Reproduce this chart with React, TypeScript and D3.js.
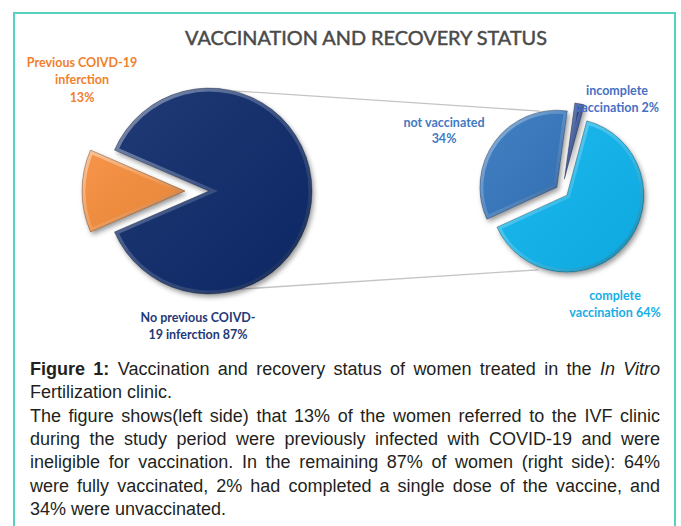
import * as React from 'react';
import * as d3 from 'd3';

// left pie: recovery status
const recoveryLabels = ['No previous COIVD-19 inferction', 'Previous COIVD-19 inferction'];
const recoveryValues = [87, 13];
// right pie: vaccination status among the 87%
const vaccLabels = ['complete vaccination', 'not vaccinated', 'incomplete vaccination'];
const vaccValues = [64, 34, 2];

const title = 'VACCINATION AND RECOVERY STATUS';

type Word = { t: string; b?: boolean; i?: boolean };
const captionLines: { words: Word[]; justify: boolean }[] = [
    {
        words: [{ t: 'Figure', b: true }, { t: '1:', b: true },
            ...'Vaccination and recovery status of women treated in the'.split(' ').map(t => ({ t })),
            { t: 'In', i: true }, { t: 'Vitro', i: true }],
        justify: true,
    },
    { words: 'Fertilization clinic.'.split(' ').map(t => ({ t })), justify: false },
    { words: 'The figure shows(left side) that 13% of the women referred to the IVF clinic'.split(' ').map(t => ({ t })), justify: true },
    { words: 'during the study period were previously infected with COVID-19 and were'.split(' ').map(t => ({ t })), justify: true },
    { words: 'ineligible for vaccination. In the remaining 87% of women (right side): 64%'.split(' ').map(t => ({ t })), justify: true },
    { words: 'were fully vaccinated, 2% had completed a single dose of the vaccine, and'.split(' ').map(t => ({ t })), justify: true },
    { words: '34% were unvaccinated.'.split(' ').map(t => ({ t })), justify: false },
];

const deg = Math.PI / 180;
const W = 681;
const H = 526;

const leftCenter = { x: 197, y: 191 };
const leftR = 103;
const leftExplode = [12, 12];
const leftColors = ['#0c2a6a', '#f68d3a'];

const rightCenter = { x: 562, y: 191 };
const rightR = 77;
const rightExplode = [6.4, 6.4, 12];
const rightColors = ['#08b4ee', '#3577bf', '#1c3a88'];

const captionFont = '"Liberation Sans", Arial, sans-serif';
const captionSize = 18;
const labelFont = 'Lato, "Open Sans", sans-serif';

const shift = (a: d3.PieArcDatum<number>, e: number) => {
    const m = (a.startAngle + a.endAngle) / 2;
    return { dx: Math.sin(m) * e, dy: -Math.cos(m) * e };
};
const pointAt = (cx: number, cy: number, r: number, ang: number) =>
    [cx + Math.sin(ang * deg) * r, cy - Math.cos(ang * deg) * r];

let ctx: CanvasRenderingContext2D | null = null;
const measure = (w: Word) => {
    if (!ctx) ctx = document.createElement('canvas').getContext('2d');
    ctx!.font = `${w.i ? 'italic ' : ''}${w.b ? 'bold ' : ''}${captionSize}px ${captionFont}`;
    return ctx!.measureText(w.t).width;
};

const Slice = ({ d, id, color, dx, dy }: { d: string; id: string; color: string; dx: number; dy: number }) => (
    <g transform={`translate(${dx},${dy})`}>
        <clipPath id={`clip-${id}`}><path d={d} /></clipPath>
        <path d={d} fill={color} filter="url(#shadow)" />
        <path d={d} fill="url(#shine)" />
        <path d={d} fill="none" stroke="url(#bevel)" strokeWidth={7} clipPath={`url(#clip-${id})`} />
        <path d={d} fill="none" stroke="rgba(0,0,0,0.35)" strokeWidth={0.8} />
    </g>
);

export default function App() {
    const leftArcs = d3.pie<number>().sort(null).startAngle(-66.6 * deg).endAngle(293.4 * deg)(recoveryValues);
    const rightArcs = d3.pie<number>().sort(null).startAngle(15 * deg).endAngle(375 * deg)(vaccValues);
    const leftArc = d3.arc<d3.PieArcDatum<number>>().innerRadius(0).outerRadius(leftR);
    const rightArc = d3.arc<d3.PieArcDatum<number>>().innerRadius(0).outerRadius(rightR);

    // connector lines: navy slice edge -> right pie edge
    const navy = shift(leftArcs[0], leftExplode[0]);
    const notVac = shift(rightArcs[1], rightExplode[1]);
    const compl = shift(rightArcs[0], rightExplode[0]);
    const topA = pointAt(leftCenter.x + navy.dx, leftCenter.y + navy.dy, leftR, 13.4);
    const topB = pointAt(rightCenter.x + notVac.dx, rightCenter.y + notVac.dy, rightR + 1, 347.3);
    const botA = pointAt(leftCenter.x + navy.dx, leftCenter.y + navy.dy, leftR, 162.3);
    const botB = pointAt(rightCenter.x + compl.dx, rightCenter.y + compl.dy, rightR + 3, 201);

    const left = 30;
    const right = 660;
    const baseline0 = 375;
    const lineH = 23.3;

    return (
        <svg width={W} height={H} style={{ display: 'block' }}>
            <style>{'body{margin:0}'}</style>
            <defs>
                <filter id="shadow" x="-20%" y="-20%" width="140%" height="140%">
                    <feDropShadow dx={2} dy={3} stdDeviation={2.5} floodColor="#000" floodOpacity={0.4} />
                </filter>
                <linearGradient id="bevel" x1="0" y1="0" x2="1" y2="1">
                    <stop offset="0" stopColor="#fff" stopOpacity={0.45} />
                    <stop offset="0.5" stopColor="#fff" stopOpacity={0.15} />
                    <stop offset="1" stopColor="#000" stopOpacity={0.3} />
                </linearGradient>
                <linearGradient id="shine" x1="0" y1="0" x2="1" y2="1">
                    <stop offset="0" stopColor="#fff" stopOpacity={0.08} />
                    <stop offset="1" stopColor="#000" stopOpacity={0.06} />
                </linearGradient>
            </defs>
            <rect width={W} height={H} fill="#fff" />
            <path d={`M14,${H + 2}V13H675V${H + 2}`} fill="none" stroke="#55d2bf" strokeWidth={2} />

            <text x={366} y={45} textAnchor="middle" fontFamily={labelFont} fontSize={19}
                fill="#4a4a4a" stroke="#4a4a4a" strokeWidth={0.45}
                textLength={362} lengthAdjust="spacingAndGlyphs">{title}</text>

            <line x1={topA[0]} y1={topA[1]} x2={topB[0]} y2={topB[1]} stroke="#c4c4c4" strokeWidth={1.3} />
            <line x1={botA[0]} y1={botA[1]} x2={botB[0]} y2={botB[1]} stroke="#c4c4c4" strokeWidth={1.3} />

            <g transform={`translate(${leftCenter.x},${leftCenter.y})`}>
                {leftArcs.map((a, i) => {
                    const s = shift(a, leftExplode[i]);
                    return <Slice key={i} id={`l${i}`} d={leftArc(a)!} color={leftColors[i]} dx={s.dx} dy={s.dy} />;
                })}
            </g>
            <g transform={`translate(${rightCenter.x},${rightCenter.y})`}>
                {rightArcs.map((a, i) => {
                    const s = shift(a, rightExplode[i]);
                    return <Slice key={i} id={`r${i}`} d={rightArc(a)!} color={rightColors[i]} dx={s.dx} dy={s.dy} />;
                })}
            </g>

            {/* slice labels */}
            <g fontFamily={labelFont} fontWeight="bold" fontSize={12.5} textAnchor="middle">
                <text fill="#f0802c">
                    <tspan x={82} y={67}>Previous COIVD-19</tspan>
                    <tspan x={82} y={84}>inferction</tspan>
                    <tspan x={82} y={102}>{recoveryValues[1]}%</tspan>
                </text>
                <text fill="#1f3a78">
                    <tspan x={198} y={322}>No previous COIVD-</tspan>
                    <tspan x={198} y={339}>19 inferction {recoveryValues[0]}%</tspan>
                </text>
                <text fill="#3f79c2">
                    <tspan x={444} y={127}>{vaccLabels[1]}</tspan>
                    <tspan x={444} y={143}>{vaccValues[1]}%</tspan>
                </text>
                <text fill="#4670c4">
                    <tspan x={617} y={95}>incomplete</tspan>
                    <tspan x={617} y={112}>vaccination {vaccValues[2]}%</tspan>
                </text>
                <text fill="#16aee6">
                    <tspan x={615} y={300}>complete</tspan>
                    <tspan x={615} y={317}>vaccination {vaccValues[0]}%</tspan>
                </text>
            </g>

            {/* caption */}
            <g fontFamily={captionFont} fontSize={captionSize} fill="#231f20">
                {captionLines.map((ln, li) => {
                    const widths = ln.words.map(measure);
                    const total = widths.reduce((s, w) => s + w, 0);
                    const gap = ln.justify ? (right - left - total) / (ln.words.length - 1) : measure({ t: ' ' });
                    let x = left;
                    return ln.words.map((w, wi) => {
                        const el = (
                            <text key={`${li}-${wi}`} x={x} y={baseline0 + li * lineH}
                                fontWeight={w.b ? 'bold' : 'normal'} fontStyle={w.i ? 'italic' : 'normal'}>{w.t}</text>
                        );
                        x += widths[wi] + gap;
                        return el;
                    });
                })}
            </g>
        </svg>
    );
}
